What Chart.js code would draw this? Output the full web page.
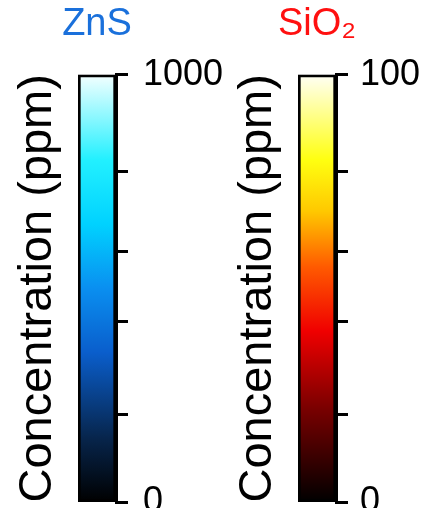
<!DOCTYPE html>
<html>
<head>
<meta charset="utf-8">
<script src="https://cdn.jsdelivr.net/npm/chart.js@4.4.0/dist/chart.umd.min.js"></script>
<style>
  html, body { margin: 0; padding: 0; background: #fff; overflow: hidden; width: 441px; height: 508px; }
  .panel { position: absolute; top: 0; }
  #znsPanel { left: -43px; }
  #sioPanel { left: 177px; }
</style>
</head>
<body>
<div class="panel" id="znsPanel"><canvas id="znsChart" width="280" height="544"></canvas></div>
<div class="panel" id="sioPanel"><canvas id="sioChart" width="280" height="544"></canvas></div>
<script>
// ZnS colour bar
const znsCategories = ['ZnS'];
const znsValues = [1000];
const znsTicks = [0, 204, 422, 585, 773, 1000];
const znsTickLabels = ['0', '', '', '', '', '1000'];

// SiO2 colour bar
const sioCategories = ['SiO₂'];
const sioValues = [100];
const sioTicks = [0, 20.4, 42.2, 58.5, 77.3, 100];
const sioTickLabels = ['0', '', '', '', '', '100'];

const axisTitle = 'Concentration (ppm)';

// colour maps, bottom (0) to top (1)
const coolStops = [
    [0, '#000000'], [0.15, '#07254c'], [0.35, '#0a5ecc'], [0.5, '#0a8ff0'],
    [0.65, '#00d2ff'], [0.8, '#22f0ff'], [1, '#f4ffff']
];
const hotStops = [
    [0, '#000000'], [0.22, '#7a0000'], [0.4, '#f00000'], [0.55, '#ff5a00'],
    [0.68, '#ffc800'], [0.8, '#ffff10'], [1, '#fffff6']
];

const sansFont = "'Liberation Sans', Arial, sans-serif";

/**
 * Builds a vertical gradient across the chart area.
 */
function barGradient(chart, stops) {
    const area = chart.chartArea;
    if (!area) {
        return '#000';
    }
    const g = chart.ctx.createLinearGradient(0, area.bottom, 0, area.top);
    stops.forEach(([pos, col]) => g.addColorStop(pos, col));
    return g;
}

/**
 * Draws one colour bar as a single full-width bar.
 */
function makeColorBar(canvasId, cfg) {
    const ctx = document.getElementById(canvasId).getContext('2d');
    return new Chart(ctx, {
        type: 'bar',
        data: {
            labels: cfg.categories,
            datasets: [{
                data: cfg.values,
                backgroundColor: (c) => barGradient(c.chart, cfg.stops),
                borderColor: '#000',
                borderWidth: 3,
                borderSkipped: false,
                barPercentage: 1,
                categoryPercentage: 1,
            }],
        },
        options: {
            responsive: false,
            animation: false,
            layout: { padding: { left: 0, right: 0, top: 0, bottom: 42 } },
            plugins: {
                legend: { display: false },
                tooltip: { enabled: false },
                title: {
                    display: true,
                    text: cfg.title,
                    color: cfg.titleColor,
                    font: { family: sansFont, size: 38, weight: 'normal' },
                    padding: { top: 2, bottom: 27 },
                },
            },
            scales: {
                x: { display: false },
                yLabel: {
                    type: 'linear',
                    position: 'left',
                    grid: { display: false },
                    border: { display: false },
                    ticks: { display: false },
                    title: {
                        display: true,
                        text: axisTitle,
                        color: '#000',
                        font: { family: sansFont, size: 47, weight: 'normal' },
                        padding: { top: 53, bottom: 0 },
                    },
                    afterFit: (s) => { s.width = 121; },
                },
                y: {
                    type: 'linear',
                    position: 'right',
                    min: 0,
                    max: cfg.values[0],
                    afterBuildTicks: (s) => { s.ticks = cfg.ticks.map(v => ({ value: v })); },
                    ticks: {
                        autoSkip: false,
                        padding: cfg.tickPad,
                        color: '#000',
                        font: { family: sansFont, size: 36 },
                        callback: (v, i) => cfg.tickLabels[i],
                    },
                    grid: {
                        drawOnChartArea: false,
                        drawTicks: true,
                        tickLength: 12,
                        color: '#000',
                        lineWidth: 3,
                    },
                    border: { display: true, color: '#000', width: 3 },
                    afterFit: (s) => { s.width = 121; },
                },
            },
        },
    });
}

makeColorBar('znsChart', {
    categories: znsCategories,
    values: znsValues,
    ticks: znsTicks,
    tickLabels: znsTickLabels,
    title: 'ZnS',
    titleColor: '#1a70db',
    stops: coolStops,
    tickPad: 15,
});

makeColorBar('sioChart', {
    categories: sioCategories,
    values: sioValues,
    ticks: sioTicks,
    tickLabels: sioTickLabels,
    title: 'SiO₂',
    titleColor: '#ff1010',
    stops: hotStops,
    tickPad: 12,
});
</script>
</body>
</html>
